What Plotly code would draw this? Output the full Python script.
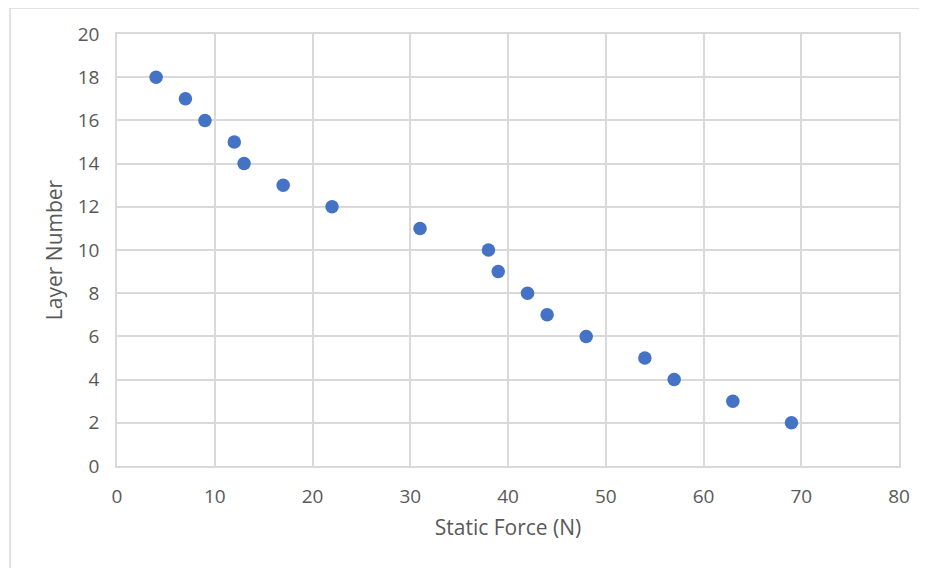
import plotly.graph_objects as go

static_force = [4, 7, 9, 12, 13, 17, 22, 31, 38, 39, 42, 44, 48, 54, 57, 63, 69]
layer_number = [18, 17, 16, 15, 14, 13, 12, 11, 10, 9, 8, 7, 6, 5, 4, 3, 2]
x_ticks = [0, 10, 20, 30, 40, 50, 60, 70, 80]
y_ticks = [0, 2, 4, 6, 8, 10, 12, 14, 16, 18, 20]

font_family = "Open Sans, Noto Sans, Liberation Sans, sans-serif"
grid = "#d9d9d9"
txt = "#595959"

fig = go.Figure(go.Scatter(
    x=static_force, y=layer_number, mode="markers",
    marker=dict(color="#4472C4", size=13.5, line=dict(width=0)),
))

fig.update_layout(
    width=927, height=568,
    margin=dict(l=109, r=36, t=26, b=110),
    paper_bgcolor="white", plot_bgcolor="white",
    showlegend=False,
    font=dict(family=font_family, color=txt, size=19),
    xaxis=dict(
        range=[0, 80], tickvals=x_ticks, showgrid=True, gridcolor=grid, gridwidth=1.5,
        showline=True, linecolor=grid, linewidth=1.5, mirror=True, zeroline=False,
        ticks="outside", ticklen=12, tickcolor="rgba(0,0,0,0)",
        title=dict(text="Static Force (N)", font=dict(size=21, color=txt), standoff=13),
        tickfont=dict(size=19, color=txt),
    ),
    yaxis=dict(
        range=[0, 20], tickvals=y_ticks, showgrid=True, gridcolor=grid, gridwidth=1.5,
        showline=True, linecolor=grid, linewidth=1.5, mirror=True, zeroline=False,
        ticks="outside", ticklen=12, tickcolor="rgba(0,0,0,0)",
        title=dict(text="Layer Number", font=dict(size=21, color=txt), standoff=9),
        tickfont=dict(size=19, color=txt),
    ),
    shapes=[dict(
        type="rect", xref="paper", yref="paper",
        x0=-0.1368, x1=1.06, y0=-0.35, y1=1.0602,
        line=dict(color=grid, width=1.5), fillcolor="rgba(0,0,0,0)", layer="below",
    )],
)

fig.write_html("out.html")
